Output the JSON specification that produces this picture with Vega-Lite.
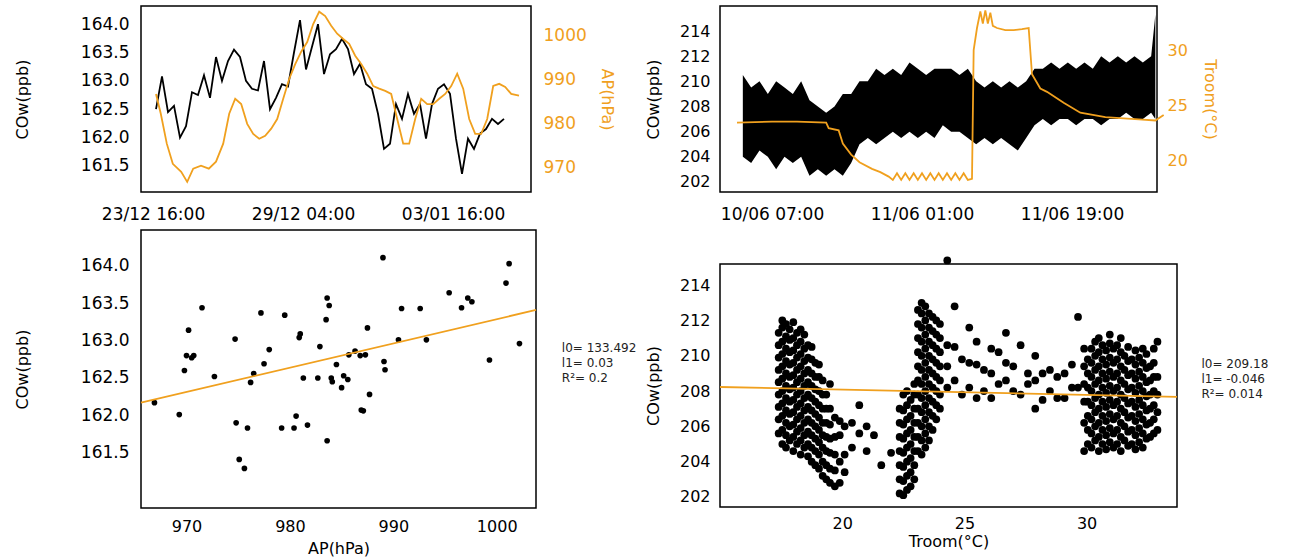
{
"$schema": "https://vega.github.io/schema/vega-lite/v6.json",
"config": {"font": "DejaVu Sans", "view": {"stroke": "black", "strokeWidth": 1.5},
  "axis": {"grid": false, "labelFontSize": 16, "titleFontSize": 16, "titleFontWeight": "normal", "domain": false, "ticks": false, "labelPadding": 10, "tickColor": "black", "labelColor": "black", "titleColor": "black"}},
"datasets": {
 "tlc": [
  {"t":0.5,"v":162.5},{"t":1.5,"v":163.08},{"t":2.5,"v":162.45},{"t":3.5,"v":162.56},{"t":4.5,"v":162.0},{"t":5.5,"v":162.2},{"t":6.5,"v":162.8},{"t":7.5,"v":162.75},{"t":8.5,"v":163.1},{"t":9.5,"v":162.7},
  {"t":10.5,"v":163.42},{"t":11.5,"v":163.0},{"t":12.5,"v":163.35},{"t":13.5,"v":163.55},{"t":14.5,"v":163.42},{"t":15.5,"v":163.0},{"t":16.5,"v":162.86},{"t":17.5,"v":162.83},{"t":18.5,"v":163.35},{"t":19.5,"v":162.5},
  {"t":20.5,"v":162.7},{"t":21.5,"v":162.94},{"t":22.5,"v":162.9},{"t":23.5,"v":163.5},{"t":24.5,"v":164.07},{"t":25.5,"v":163.2},{"t":26.5,"v":163.6},{"t":27.5,"v":164.0},{"t":28.5,"v":163.12},{"t":29.5,"v":163.47},
  {"t":30.5,"v":163.56},{"t":31.5,"v":163.74},{"t":32.5,"v":163.56},{"t":33.5,"v":163.12},{"t":34.5,"v":163.3},{"t":35.5,"v":162.94},{"t":36.5,"v":162.86},{"t":37.5,"v":162.42},{"t":38.5,"v":161.8},{"t":39.5,"v":161.89},
  {"t":40.5,"v":162.59},{"t":41.5,"v":162.33},{"t":42.5,"v":162.77},{"t":43.5,"v":162.42},{"t":44.5,"v":162.59},{"t":45.5,"v":161.98},{"t":46.5,"v":162.59},{"t":47.5,"v":162.86},{"t":48.5,"v":162.94},{"t":49.5,"v":162.77},
  {"t":50.5,"v":161.98},{"t":51.5,"v":161.36},{"t":52.5,"v":161.98},{"t":53.5,"v":161.8},{"t":54.5,"v":162.07},{"t":55.5,"v":162.15},{"t":56.5,"v":162.33},{"t":57.5,"v":162.24},{"t":58.5,"v":162.33}],
 "tla": [
  {"t":0.5,"a":986.8},{"t":1.3,"a":982.3},{"t":2.3,"a":975.5},{"t":3.3,"a":970.9},{"t":4.7,"a":969.1},{"t":5.7,"a":966.8},{"t":6.7,"a":969.8},{"t":8,"a":970.5},{"t":9.3,"a":969.8},{"t":10.5,"a":971.4},
  {"t":11.7,"a":975.5},{"t":12.7,"a":982.3},{"t":13.7,"a":985.7},{"t":14.7,"a":984.5},{"t":15.7,"a":980},{"t":16.7,"a":977.7},{"t":17.7,"a":976.6},{"t":18.7,"a":977.3},{"t":19.7,"a":978.9},{"t":20.7,"a":981.1},
  {"t":21.7,"a":985.7},{"t":22.7,"a":990.2},{"t":23.7,"a":993.6},{"t":24.7,"a":996.4},{"t":25.7,"a":998.6},{"t":26.7,"a":1002.7},{"t":27.7,"a":1005.5},{"t":28.7,"a":1004.5},{"t":29.7,"a":1002.3},{"t":30.7,"a":1000.5},
  {"t":31.7,"a":999.3},{"t":32.7,"a":998.2},{"t":33.7,"a":995.5},{"t":34.7,"a":993.6},{"t":35.7,"a":991.4},{"t":36.7,"a":988.6},{"t":37.7,"a":988},{"t":38.7,"a":987.5},{"t":39.7,"a":986.8},{"t":40.7,"a":981.1},
  {"t":41.7,"a":975.5},{"t":42.7,"a":975.5},{"t":43.7,"a":981.1},{"t":44.7,"a":985.7},{"t":45.7,"a":984.5},{"t":46.7,"a":984.5},{"t":47.7,"a":985.7},{"t":48.7,"a":986.8},{"t":49.7,"a":988.6},{"t":50.7,"a":991.4},
  {"t":51.7,"a":988},{"t":52.7,"a":981.1},{"t":53.7,"a":977.7},{"t":54.7,"a":977.7},{"t":55.7,"a":981.1},{"t":56.7,"a":988.6},{"t":57.7,"a":989.1},{"t":58.7,"a":988.4},{"t":59.7,"a":986.8},{"t":61,"a":986.4}],
 "trc": [
  {"t":-3.5,"lo":204,"hi":210.5},{"t":-2.5,"lo":203.5,"hi":209.5},{"t":-1.5,"lo":204.5,"hi":210},{"t":-0.5,"lo":204,"hi":209},{"t":0.5,"lo":203,"hi":210},{"t":1.5,"lo":204,"hi":209.5},{"t":2.5,"lo":203.5,"hi":209},{"t":3.5,"lo":204,"hi":210},
  {"t":4.5,"lo":202.5,"hi":208.5},{"t":5.5,"lo":203,"hi":208},{"t":6.5,"lo":202.5,"hi":207.5},{"t":7.5,"lo":203,"hi":208},{"t":8.5,"lo":202.5,"hi":209},{"t":9.5,"lo":203.5,"hi":209},{"t":10.5,"lo":205,"hi":210},{"t":11.5,"lo":205.5,"hi":210},
  {"t":12.5,"lo":205,"hi":211},{"t":13.5,"lo":205.5,"hi":210.5},{"t":14.5,"lo":206,"hi":211},{"t":15.5,"lo":205.5,"hi":210.5},{"t":16.5,"lo":206,"hi":211.5},{"t":17.5,"lo":205.5,"hi":211},{"t":18.5,"lo":206,"hi":210.5},{"t":19.5,"lo":205.5,"hi":211},
  {"t":20.5,"lo":206.5,"hi":211},{"t":21.5,"lo":206,"hi":211},{"t":22.5,"lo":206,"hi":210.5},{"t":23.5,"lo":205.5,"hi":211},{"t":24.5,"lo":205,"hi":210},{"t":25.5,"lo":205.5,"hi":209.5},{"t":26.5,"lo":205,"hi":210},{"t":27.5,"lo":205.5,"hi":209.5},
  {"t":28.5,"lo":205,"hi":210},{"t":29.5,"lo":204.5,"hi":209.5},{"t":30.5,"lo":205.5,"hi":210},{"t":31.5,"lo":206.5,"hi":211},{"t":32.5,"lo":207,"hi":211},{"t":33.5,"lo":206.5,"hi":211.5},{"t":34.5,"lo":207,"hi":211},{"t":35.5,"lo":207,"hi":211.5},
  {"t":36.5,"lo":206.5,"hi":211},{"t":37.5,"lo":207,"hi":211.5},{"t":38.5,"lo":207,"hi":211},{"t":39.5,"lo":206.5,"hi":212},{"t":40.5,"lo":207,"hi":211.5},{"t":41.5,"lo":207,"hi":212},{"t":42.5,"lo":207.5,"hi":211.5},{"t":43.5,"lo":207,"hi":212},
  {"t":44.5,"lo":207,"hi":211.5},{"t":45.5,"lo":207.5,"hi":212},{"t":46,"lo":207,"hi":215.3}],
 "tro": [
  {"t":-4.2,"T":23.4},{"t":0,"T":23.5},{"t":3,"T":23.5},{"t":6.5,"T":23.4},{"t":6.8,"T":22.9},{"t":8,"T":22.7},{"t":8.5,"T":21.5},{"t":9.5,"T":20.5},{"t":10.5,"T":19.8},{"t":12,"T":19.2},{"t":13,"T":18.9},{"t":14,"T":18.5},
  {"t":14.5,"T":18.2},{"t":15,"T":18.8},{"t":15.5,"T":18.2},{"t":16,"T":18.8},{"t":16.5,"T":18.2},{"t":17,"T":18.8},{"t":17.5,"T":18.2},{"t":18,"T":18.8},{"t":18.5,"T":18.2},{"t":19,"T":18.8},{"t":19.5,"T":18.2},{"t":20,"T":18.8},
  {"t":20.5,"T":18.2},{"t":21,"T":18.8},{"t":21.5,"T":18.2},{"t":22,"T":18.8},{"t":22.5,"T":18.2},{"t":23,"T":18.8},{"t":23.5,"T":18.2},{"t":24,"T":18.3},{"t":24.2,"T":30},{"t":24.6,"T":32},{"t":25,"T":33.5},{"t":25.3,"T":32.4},
  {"t":25.6,"T":33.6},{"t":25.9,"T":32.4},{"t":26.2,"T":33.4},{"t":26.5,"T":32.2},{"t":27,"T":32},{"t":28,"T":31.8},{"t":29,"T":31.8},{"t":30,"T":31.9},{"t":30.8,"T":32},{"t":31.2,"T":27.8},{"t":32.2,"T":26.5},{"t":33,"T":26.2},
  {"t":35,"T":25.2},{"t":37,"T":24.3},{"t":40,"T":23.9},{"t":44,"T":23.7},{"t":46,"T":23.6},{"t":47,"T":24.1}],
 "bl": [
  {"a":966.9,"c":162.17},{"a":969.3,"c":162.01},{"a":969.8,"c":162.6},{"a":970.0,"c":162.8},{"a":970.2,"c":163.14},{"a":970.5,"c":162.77},{"a":970.7,"c":162.8},{"a":971.5,"c":163.44},{"a":972.7,"c":162.52},{"a":974.7,"c":163.02},
  {"a":974.8,"c":161.9},{"a":975.1,"c":161.41},{"a":975.6,"c":161.29},{"a":975.9,"c":161.83},{"a":976.2,"c":162.44},{"a":976.5,"c":162.56},{"a":977.2,"c":163.37},{"a":977.5,"c":162.69},{"a":978.0,"c":162.88},{"a":979.2,"c":161.83},
  {"a":979.5,"c":163.34},{"a":980.4,"c":161.83},{"a":980.6,"c":161.99},{"a":980.9,"c":163.04},{"a":981.0,"c":163.09},{"a":981.3,"c":162.5},{"a":981.7,"c":161.87},{"a":982.7,"c":162.5},{"a":982.9,"c":162.92},{"a":983.5,"c":163.28},
  {"a":983.6,"c":163.57},{"a":983.6,"c":161.66},{"a":983.8,"c":163.47},{"a":984.0,"c":162.5},{"a":984.1,"c":162.45},{"a":984.5,"c":162.68},{"a":985.0,"c":162.37},{"a":985.2,"c":162.53},{"a":985.6,"c":162.48},{"a":985.7,"c":162.81},
  {"a":986.3,"c":162.86},{"a":986.8,"c":162.8},{"a":986.9,"c":162.07},{"a":987.1,"c":162.06},{"a":987.3,"c":162.81},{"a":987.5,"c":163.17},{"a":987.7,"c":162.28},{"a":989.0,"c":164.11},{"a":989.1,"c":162.72},{"a":989.2,"c":162.61},
  {"a":990.5,"c":163.01},{"a":990.8,"c":163.43},{"a":992.6,"c":163.43},{"a":993.2,"c":163.01},{"a":995.4,"c":163.64},{"a":996.6,"c":163.44},{"a":997.2,"c":163.57},{"a":997.6,"c":163.52},{"a":999.3,"c":162.74},{"a":1000.9,"c":163.77},
  {"a":1001.2,"c":164.03},{"a":1002.2,"c":162.96}],
 "blfit": [{"a":965.6,"c":162.17},{"a":1003.8,"c":163.41}],
 "bltxt": [{"a":1006.3,"c":162.9,"s":"l0= 133.492"},{"a":1006.3,"c":162.7,"s":"l1= 0.03"},{"a":1006.3,"c":162.5,"s":"R²= 0.2"}],
 "br": [
  {"x":17.4,"y":[205.6,206.4,207.1,207.8,208.5,209.2,209.9,210.6,211.3]},
  {"x":17.55,"y":[205,205.8,206.6,207.3,208,208.7,209.4,210.1,210.8,211.6,212]},
  {"x":17.7,"y":[204.8,205.5,206.2,206.9,207.6,208.3,209,209.7,210.4,211.1,211.8]},
  {"x":17.85,"y":[205.2,206,206.7,207.4,208.1,208.8,209.5,210.2,210.9,211.5]},
  {"x":18.0,"y":[204.6,205.4,206.1,206.8,207.5,208.2,208.9,209.6,210.3,211,211.9]},
  {"x":18.15,"y":[205,205.7,206.4,207.1,207.8,208.5,209.2,209.9,210.6,211.3]},
  {"x":18.3,"y":[204.4,205.2,205.9,206.6,207.3,208,208.7,209.4,210.1,210.8,211.5]},
  {"x":18.45,"y":[204.8,205.5,206.2,206.9,207.6,208.3,209,209.7,210.4,211.2]},
  {"x":18.6,"y":[204.3,205,205.7,206.4,207.1,207.8,208.5,209.2,209.9,210.6]},
  {"x":18.75,"y":[204,204.8,205.5,206.2,206.9,207.6,208.3,209,209.8,210.5]},
  {"x":18.9,"y":[203.8,204.6,205.3,206,206.7,207.4,208.1,208.8,209.6]},
  {"x":19.05,"y":[203.6,204.4,205.1,205.8,206.5,207.2,208,208.8,209.5]},
  {"x":19.2,"y":[203.2,204,204.8,205.5,206.2,207,207.8,208.6]},
  {"x":19.35,"y":[203,203.8,204.6,205.4,206.2,207,207.8]},
  {"x":19.5,"y":[202.8,203.6,204.5,205.3,206.1,207,208.4]},
  {"x":19.7,"y":[202.6,203.5,204.4,205.4,206.5]},
  {"x":19.9,"y":[202.8,204,205.5,206.3]},
  {"x":20.1,"y":[203.4,204.4,206]},
  {"x":20.4,"y":[204.8,206.2]},
  {"x":20.7,"y":[205.6,207.2]},
  {"x":21.0,"y":[204.6,206]},
  {"x":21.3,"y":[205.5]},
  {"x":21.6,"y":[203.8]},
  {"x":22.0,"y":[204.5]},
  {"x":22.35,"y":[202.2,203,203.8,204.6,205.4,206.2,207]},
  {"x":22.5,"y":[202.1,202.9,203.7,204.5,205.3,206.1,206.9,207.8]},
  {"x":22.65,"y":[202.4,203.2,204,204.8,205.6,206.4,207.2,208]},
  {"x":22.8,"y":[202.6,203.4,204.2,205,205.8,206.6,207.5]},
  {"x":22.95,"y":[203,203.8,204.6,205.4,206.2,207,207.8,208.4]},
  {"x":23.1,"y":[204.6,205.4,206.2,207,207.8,208.6,209.4,210.2,211,211.8,212.6]},
  {"x":23.25,"y":[204.4,205.2,206,206.8,207.6,208.4,209.2,210,210.8,211.6,212.4,213]},
  {"x":23.4,"y":[204.8,205.6,206.4,207.2,208,208.8,209.6,210.4,211.2,212,212.8]},
  {"x":23.55,"y":[205.2,206,206.8,207.6,208.4,209.2,210,210.8,211.6,212.4]},
  {"x":23.7,"y":[205.8,206.6,207.4,208.2,209,209.8,210.6,211.4,212.2]},
  {"x":23.85,"y":[206.4,207.2,208,208.8,209.6,210.4,211.2,212]},
  {"x":24.0,"y":[207,207.8,208.6,209.4,210.2,211,211.8]},
  {"x":24.3,"y":[208.2,209.4,210.6,215.4]},
  {"x":24.6,"y":[208.6,210.5,212.8]},
  {"x":24.9,"y":[207.8,209.8]},
  {"x":25.2,"y":[208.2,209.6,211.6]},
  {"x":25.5,"y":[207.6,209.5,210.8]},
  {"x":25.8,"y":[208,209.2]},
  {"x":26.1,"y":[207.6,209,210.4]},
  {"x":26.4,"y":[208.4,210.2]},
  {"x":26.7,"y":[208.6,209.6,211.3]},
  {"x":27.0,"y":[208,209.4]},
  {"x":27.3,"y":[207.8,210.6]},
  {"x":27.6,"y":[208.4,209]},
  {"x":27.9,"y":[207,208.6,210]},
  {"x":28.2,"y":[207.5,209]},
  {"x":28.5,"y":[208,209.2]},
  {"x":28.8,"y":[207.6,208.8]},
  {"x":29.1,"y":[207.6,209]},
  {"x":29.4,"y":[208.2,209.5]},
  {"x":29.65,"y":[212.2,208.2]},
  {"x":29.9,"y":[204.6,206.2,207.4,208.4,209.4,210.4]},
  {"x":30.05,"y":[205,205.8,206.6,207.4,208.2,209,209.8]},
  {"x":30.2,"y":[204.8,205.6,206.4,207.2,208,208.8,209.6,210.4]},
  {"x":30.35,"y":[205.2,206,206.8,207.6,208.4,209.2,210,210.8]},
  {"x":30.5,"y":[204.6,205.4,206.2,207,207.8,208.6,209.4,210.2,211]},
  {"x":30.65,"y":[205,205.8,206.6,207.4,208.2,209,209.8,210.6]},
  {"x":30.8,"y":[204.7,205.5,206.3,207.1,207.9,208.7,209.5,210.3]},
  {"x":30.95,"y":[205.1,205.9,206.7,207.5,208.3,209.1,209.9,210.7,211.2]},
  {"x":31.1,"y":[204.8,205.6,206.4,207.2,208,208.8,209.6,210.4]},
  {"x":31.25,"y":[205,205.8,206.6,207.4,208.2,209,209.8,210.6]},
  {"x":31.4,"y":[204.6,205.4,206.2,207,207.8,208.6,209.4,210.2,211]},
  {"x":31.55,"y":[205.2,206,206.8,207.6,208.4,209.2,210]},
  {"x":31.7,"y":[204.9,205.7,206.5,207.3,208.1,208.9,209.7,210.5]},
  {"x":31.85,"y":[205,205.8,206.6,207.4,208.2,209,209.8]},
  {"x":32.0,"y":[204.7,205.5,206.3,207.1,207.9,208.7,209.5,210.3]},
  {"x":32.15,"y":[205.1,205.9,206.7,207.5,208.3,209.1,209.9]},
  {"x":32.3,"y":[204.8,205.6,206.4,207.2,208,208.8,209.6,210.4]},
  {"x":32.45,"y":[205.3,206.1,206.9,207.7,208.5,209.3,210.1]},
  {"x":32.6,"y":[205.4,206.2,207,207.8,208.6,209.4]},
  {"x":32.75,"y":[205.6,206.4,207.2,208,208.8,209.6,210.4]},
  {"x":32.9,"y":[205.8,206.8,207.8,208.8,210.8]}],
 "brfit": [{"x":15.0,"y":208.23},{"x":33.7,"y":207.67}],
 "brtxt": [{"x":34.7,"y":209.53,"s":"l0= 209.18"},{"x":34.7,"y":208.68,"s":"l1= -0.046"},{"x":34.7,"y":207.83,"s":"R²= 0.014"}]
},
"padding": {"left": 13, "top": 5, "right": 5, "bottom": 5},
"spacing": 6,
"hconcat": [
 {"spacing": 6, "vconcat": [
  {"width": 390, "height": 186,
   "encoding": {"x": {"field": "t", "type": "quantitative", "scale": {"domain": [-2, 63], "nice": false, "zero": false},
     "axis": {"values": [0, 25, 50], "labelFontSize": 17, "labelPadding": 14, "labelExpr": "datum.value == 0 ? '23/12 16:00' : datum.value == 25 ? '29/12 04:00' : '03/01 16:00'"}, "title": null}},
   "layer": [
    {"data": {"name": "tlc"}, "mark": {"type": "line", "color": "black", "strokeWidth": 1.8},
     "encoding": {"y": {"field": "v", "type": "quantitative", "title": "COw(ppb)", "scale": {"domain": [161.04, 164.32], "nice": false, "zero": false}, "axis": {"values": [161.5, 162, 162.5, 163, 163.5, 164], "format": ".1f", "labelFontSize": 17, "labelPadding": 12, "titlePadding": 50}}}},
    {"data": {"name": "tla"}, "mark": {"type": "line", "color": "#f0a01e", "strokeWidth": 1.8},
     "encoding": {"y": {"field": "a", "type": "quantitative", "title": "AP(hPa)", "scale": {"domain": [964.5, 1006.8], "nice": false, "zero": false},
       "axis": {"orient": "right", "values": [970, 980, 990, 1000], "format": "d", "labelFontSize": 17, "labelPadding": 12, "labelColor": "#f0a01e", "titleColor": "#f0a01e", "titlePadding": 12}}}}
   ],
   "resolve": {"scale": {"y": "independent"}}},
  {"width": 395, "height": 278,
   "layer": [
    {"data": {"name": "bl"}, "mark": {"type": "circle", "color": "black", "opacity": 1, "size": 32},
     "encoding": {
      "x": {"field": "a", "type": "quantitative", "title": "AP(hPa)", "scale": {"domain": [965.6, 1003.8], "nice": false, "zero": false}, "axis": {"values": [970, 980, 990, 1000], "format": "d", "titlePadding": 6}},
      "y": {"field": "c", "type": "quantitative", "title": "COw(ppb)", "scale": {"domain": [160.76, 164.48], "nice": false, "zero": false}, "axis": {"values": [161.5, 162, 162.5, 163, 163.5, 164], "format": ".1f", "labelFontSize": 17, "labelPadding": 12, "titlePadding": 50}}}},
    {"data": {"name": "blfit"}, "mark": {"type": "line", "color": "#f0a01e", "strokeWidth": 1.8},
     "encoding": {"x": {"field": "a", "type": "quantitative"}, "y": {"field": "c", "type": "quantitative"}}},
    {"data": {"name": "bltxt"}, "mark": {"type": "text", "align": "left", "fontSize": 12, "color": "#222", "clip": false},
     "encoding": {"x": {"field": "a", "type": "quantitative"}, "y": {"field": "c", "type": "quantitative"}, "text": {"field": "s"}}}
   ]}
 ]},
 {"spacing": 32, "vconcat": [
  {"width": 437, "height": 186,
   "encoding": {"x": {"field": "t", "type": "quantitative", "scale": {"domain": [-6.24, 46.2], "nice": false, "zero": false},
     "axis": {"values": [0, 18, 36], "labelFontSize": 17, "labelPadding": 14, "labelExpr": "datum.value == 0 ? '10/06 07:00' : datum.value == 18 ? '11/06 01:00' : '11/06 19:00'"}, "title": null}},
   "layer": [
    {"data": {"name": "trc"}, "mark": {"type": "area", "color": "black", "opacity": 1},
     "encoding": {"y": {"field": "lo", "type": "quantitative", "title": "COw(ppb)", "scale": {"domain": [201.2, 215.99], "nice": false, "zero": false}, "axis": {"values": [202, 204, 206, 208, 210, 212, 214], "titlePadding": 18}}, "y2": {"field": "hi"}}},
    {"data": {"name": "tro"}, "mark": {"type": "line", "color": "#f0a01e", "strokeWidth": 1.8},
     "encoding": {"y": {"field": "T", "type": "quantitative", "title": "Troom(°C)", "scale": {"domain": [17.1, 34], "nice": false, "zero": false},
       "axis": {"orient": "right", "values": [20, 25, 30], "labelColor": "#f0a01e", "titleColor": "#f0a01e", "titlePadding": 14}}}}
   ],
   "resolve": {"scale": {"y": "independent"}}},
  {"width": 457, "height": 243,
   "layer": [
    {"data": {"name": "br"}, "transform": [{"flatten": ["y"]}], "mark": {"type": "circle", "color": "black", "opacity": 1, "size": 60},
     "encoding": {
      "x": {"field": "x", "type": "quantitative", "title": "Troom(°C)", "scale": {"domain": [15.0, 33.7], "nice": false, "zero": false}, "axis": {"values": [20, 25, 30], "labelPadding": 8, "titlePadding": 2}},
      "y": {"field": "y", "type": "quantitative", "title": "COw(ppb)", "scale": {"domain": [201.43, 215.2], "nice": false, "zero": false}, "axis": {"values": [202, 204, 206, 208, 210, 212, 214], "titlePadding": 18}}}},
    {"data": {"name": "brfit"}, "mark": {"type": "line", "color": "#f0a01e", "strokeWidth": 1.8},
     "encoding": {"x": {"field": "x", "type": "quantitative"}, "y": {"field": "y", "type": "quantitative"}}},
    {"data": {"name": "brtxt"}, "mark": {"type": "text", "align": "left", "fontSize": 12, "color": "#222", "clip": false},
     "encoding": {"x": {"field": "x", "type": "quantitative"}, "y": {"field": "y", "type": "quantitative"}, "text": {"field": "s"}}}
   ]}
 ]}
]
}
